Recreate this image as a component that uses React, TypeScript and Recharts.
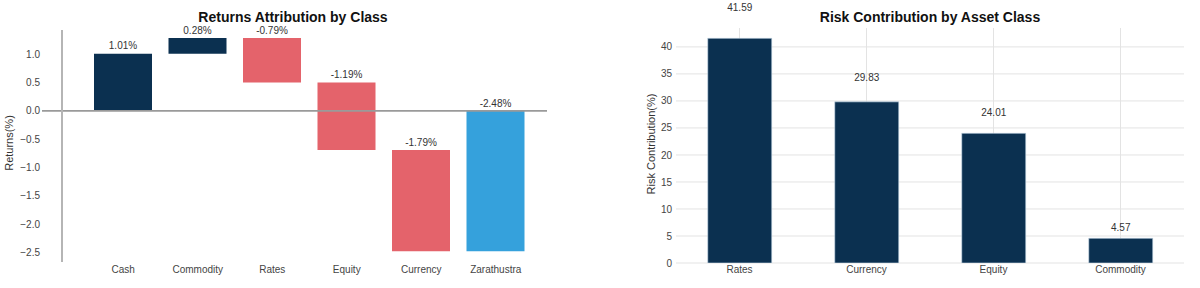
import React from 'react';
import { BarChart, Bar, XAxis, YAxis, CartesianGrid, ReferenceLine, LabelList, Cell } from 'recharts';

// ---- Returns attribution (waterfall) ----
const returnCategories = ['Cash', 'Commodity', 'Rates', 'Equity', 'Currency'];
const returnValues = [1.01, 0.28, -0.79, -1.19, -1.79];
const totalCategory = 'Zarathustra';
const totalReturn = -2.48;
const returnTicks = [1.0, 0.5, 0.0, -0.5, -1.0, -1.5, -2.0, -2.5];

// ---- Risk contribution ----
const riskCategories = ['Rates', 'Currency', 'Equity', 'Commodity'];
const riskValues = [41.59, 29.83, 24.01, 4.57];
const riskTicks = [0, 5, 10, 15, 20, 25, 30, 35, 40];

const NAVY = '#0b3050';
const RED = '#e4636b';
const BLUE = '#35a1dc';
const GRID = '#e3e3e3';
const FONT = 'Arial, "Liberation Sans", sans-serif';

const waterfallData = (() => {
  const rows: any[] = [];
  let run = 0;
  returnCategories.forEach((c, i) => {
    const start = run;
    const end = run + returnValues[i];
    run = end;
    rows.push({
      name: c,
      range: [Math.min(start, end), Math.max(start, end)],
      label: returnValues[i].toFixed(2) + '%',
      color: returnValues[i] >= 0 ? NAVY : RED,
    });
  });
  rows.push({
    name: totalCategory,
    range: [Math.min(0, totalReturn), Math.max(0, totalReturn)],
    label: totalReturn.toFixed(2) + '%',
    color: BLUE,
  });
  return rows;
})();

const riskData = riskCategories.map((c, i) => ({ name: c, risk: riskValues[i], label: riskValues[i].toFixed(2) }));

const fmtReturn = (v: number) => (v < 0 ? '\u2212' + Math.abs(v).toFixed(1) : v.toFixed(1));

const WaterfallLabel = (props: any) => {
  const { x, y, width, height, value } = props;
  const top = Math.min(y, y + height);
  return (
    <text x={x + width / 2} y={top - 7} textAnchor="middle" dominantBaseline="middle" fontSize={10} fill="#333" fontFamily={FONT}>
      {value}
    </text>
  );
};

const RiskLabel = (props: any) => {
  const { x, y, width, height, value } = props;
  const top = Math.min(y, y + height);
  const h = Math.abs(height);
  return (
    <text x={x + width / 2} y={top - 7 - 0.1 * h} textAnchor="middle" dominantBaseline="middle" fontSize={10} fill="#333" fontFamily={FONT}>
      {value}
    </text>
  );
};

const ZeroLine = (p: any) => (
  <line x1={(p.x1 ?? 62) - 20} y1={p.y1} x2={p.x2} y2={p.y2} stroke="#9a9a9a" strokeWidth={1.6} />
);

export default function App() {
  return (
    <div style={{ position: 'absolute', left: 0, top: 0, width: 1200, height: 288, background: '#fff', fontFamily: FONT }}>
      <div style={{ position: 'absolute', left: 0, top: 9, width: 586, textAlign: 'center', fontWeight: 'bold', fontSize: 14, color: '#111' }}>
        Returns Attribution by Class
      </div>
      <div style={{ position: 'absolute', left: 600, top: 9, width: 660, textAlign: 'center', fontWeight: 'bold', fontSize: 14, color: '#111' }}>
        Risk Contribution by Asset Class
      </div>
      <div style={{ position: 'absolute', left: 0, top: 0 }}>
        <BarChart width={600} height={288} data={waterfallData} margin={{ top: 30, right: 53, bottom: 0, left: 0 }} barSize={58}>
          <XAxis
            dataKey="name"
            height={26}
            axisLine={false}
            tickLine={false}
            tickSize={0}
            tickMargin={4}
            padding={{ left: 24, right: 14 }}
            tick={{ fontSize: 10, fill: '#444', fontFamily: FONT }}
            interval={0}
          />
          <YAxis
            width={62}
            domain={[-2.67, 1.43]}
            ticks={returnTicks}
            tickFormatter={fmtReturn}
            axisLine={{ stroke: '#b5b5b5', strokeWidth: 2 }}
            tickLine={false}
            tickSize={0}
            tickMargin={22}
            tick={{ fontSize: 10, fill: '#444', fontFamily: FONT }}
            allowDataOverflow
            label={{
              content: () => (
                <text x={10} y={143} transform="rotate(-90, 10, 143)" textAnchor="middle" dominantBaseline="middle" fontSize={11} fill="#333" fontFamily={FONT}>
                  Returns(%)
                </text>
              ),
            }}
          />
          <Bar dataKey="range" isAnimationActive={false}>
            {waterfallData.map((d, i) => (
              <Cell key={i} fill={d.color} />
            ))}
            <LabelList dataKey="label" content={WaterfallLabel} />
          </Bar>
          <ReferenceLine y={0} shape={ZeroLine} />
        </BarChart>
      </div>
      <div style={{ position: 'absolute', left: 600, top: 0 }}>
        <BarChart width={600} height={288} data={riskData} margin={{ top: 28, right: 16, bottom: 0, left: 0 }} barCategoryGap="25%">
          <CartesianGrid stroke={GRID} strokeWidth={1} syncWithTicks />
          <XAxis
            dataKey="name"
            height={25}
            axisLine={false}
            tickLine={false}
            tickSize={0}
            tickMargin={3}
            tick={{ fontSize: 10, fill: '#444', fontFamily: FONT }}
            interval={0}
          />
          <YAxis
            width={76}
            domain={[0, 43.5]}
            ticks={riskTicks}
            axisLine={false}
            tickLine={false}
            tickSize={0}
            tickMargin={4}
            tick={{ fontSize: 10, fill: '#444', fontFamily: FONT }}
            allowDataOverflow
            label={{
              content: () => (
                <text x={52} y={144} transform="rotate(-90, 52, 144)" textAnchor="middle" dominantBaseline="middle" fontSize={11} fill="#333" fontFamily={FONT}>
                  Risk Contribution(%)
                </text>
              ),
            }}
          />
          <Bar dataKey="risk" fill={NAVY} stroke="#c9dcea" strokeWidth={0.6} isAnimationActive={false}>
            <LabelList dataKey="label" content={RiskLabel} />
          </Bar>
        </BarChart>
      </div>
    </div>
  );
}
